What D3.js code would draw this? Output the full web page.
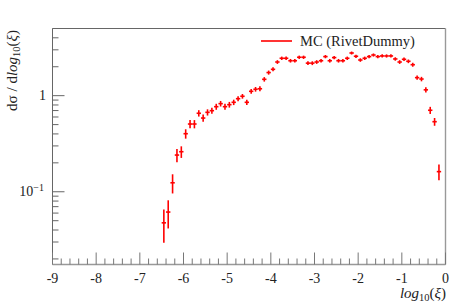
<!DOCTYPE html>
<html>
  <head>
    <meta charset="utf-8">
    <title>MC (RivetDummy)</title>
    <style>
      body { margin: 0; padding: 0; background: #fff; }
      #chart { width: 461px; height: 304px; }
    </style>
  </head>
  <body>
    <div id="chart"></div>

    <script src="https://cdnjs.cloudflare.com/ajax/libs/d3/7.8.5/d3.min.js"></script>
    <script>
      // bin centres in log10(xi)
      const xCenters = [
        -6.45, -6.35, -6.25, -6.15, -6.05, -5.95, -5.85, -5.75, -5.65, -5.55,
        -5.45, -5.35, -5.25, -5.15, -5.05, -4.95, -4.85, -4.75, -4.65, -4.55,
        -4.45, -4.35, -4.25, -4.15, -4.05, -3.95, -3.85, -3.75, -3.65, -3.55,
        -3.45, -3.35, -3.25, -3.15, -3.05, -2.95, -2.85, -2.75, -2.65, -2.55,
        -2.45, -2.35, -2.25, -2.15, -2.05, -1.95, -1.85, -1.75, -1.65, -1.55,
        -1.45, -1.35, -1.25, -1.15, -1.05, -0.95, -0.85, -0.75, -0.65, -0.55,
        -0.45, -0.35, -0.25, -0.15
      ];
      const binHalfWidth = 0.05;

      // dsigma / dlog10(xi)
      const yValues = [
        0.0475, 0.0615, 0.124, 0.241, 0.261, 0.402, 0.507, 0.507, 0.656, 0.585,
        0.671, 0.698, 0.768, 0.826, 0.768, 0.806, 0.853, 0.93, 0.986, 0.853,
        1.11, 1.166, 1.18, 1.48, 1.74, 1.88, 2.24, 2.45, 2.45, 2.31,
        2.31, 2.51, 2.51, 2.18, 2.18, 2.24, 2.31, 2.55, 2.31, 2.49,
        2.31, 2.31, 2.45, 2.78, 2.57, 2.35, 2.45, 2.55, 2.65, 2.55,
        2.59, 2.59, 2.59, 2.41, 2.24, 2.39, 2.28, 2.1, 1.54, 1.49,
        1.15, 0.705, 0.536, 0.162
      ];

      const yErrors = [
        0.018, 0.02, 0.028, 0.038, 0.036, 0.045, 0.05, 0.05, 0.05, 0.05,
        0.05, 0.05, 0.055, 0.055, 0.055, 0.055, 0.055, 0.055, 0.055, 0.055,
        0.065, 0.065, 0.07, 0.08, 0.085, 0.09, 0.1, 0.1, 0.1, 0.1,
        0.1, 0.1, 0.1, 0.1, 0.1, 0.1, 0.1, 0.1, 0.1, 0.1,
        0.1, 0.1, 0.1, 0.1, 0.1, 0.1, 0.1, 0.1, 0.1, 0.1,
        0.1, 0.1, 0.1, 0.1, 0.1, 0.1, 0.1, 0.1, 0.08, 0.08,
        0.07, 0.06, 0.05, 0.03
      ];

      const xTicks = [-9, -8, -7, -6, -5, -4, -3, -2, -1, 0];
      const yMajorTicks = [0.1, 1];
      const yMinorTicks = [0.02, 0.03, 0.04, 0.05, 0.06, 0.07, 0.08, 0.09,
                           0.2, 0.3, 0.4, 0.5, 0.6, 0.7, 0.8, 0.9, 2, 3, 4, 5];

      const data = xCenters.map((x, i) => ({x: x, y: yValues[i], e: yErrors[i]}));

      const W = 461, H = 304;
      const pLeft = 52.5, pRight = 445.5, pTop = 28.5, pBottom = 264.5;
      const FONT = 'Liberation Serif';

      const svg = d3.select('#chart').append('svg')
        .attr('width', W).attr('height', H);

      const x = d3.scaleLinear().domain([-9, 0]).range([pLeft, pRight]);
      const y = d3.scaleLog().domain([0.0175, 5]).range([pBottom, pTop]);

      // frame
      svg.append('line').attr('x1', pLeft).attr('x2', pRight).attr('y1', pTop).attr('y2', pTop)
        .attr('stroke', '#666');
      svg.append('line').attr('x1', pLeft).attr('x2', pLeft).attr('y1', pTop).attr('y2', pBottom)
        .attr('stroke', '#666');
      svg.append('line').attr('x1', pLeft).attr('x2', pRight).attr('y1', pBottom).attr('y2', pBottom)
        .attr('stroke', '#999').attr('stroke-width', 1.4);
      svg.append('line').attr('x1', pRight).attr('x2', pRight).attr('y1', pTop).attr('y2', pBottom)
        .attr('stroke', '#999').attr('stroke-width', 1.4);

      // x ticks (major every 1, minor every 0.2)
      const xMinor = d3.range(-9, 0.001, 0.2).filter(v => Math.abs(v - Math.round(v)) > 1e-6);
      svg.append('g').selectAll('line').data(xMinor).enter().append('line')
        .attr('x1', d => x(d)).attr('x2', d => x(d))
        .attr('y1', pBottom).attr('y2', pBottom - 6)
        .attr('stroke', '#777');
      svg.append('g').selectAll('line').data(xTicks).enter().append('line')
        .attr('x1', d => x(d)).attr('x2', d => x(d))
        .attr('y1', pBottom).attr('y2', pBottom - 12)
        .attr('stroke', '#777');
      svg.append('g').selectAll('text').data(xTicks).enter().append('text')
        .attr('x', d => x(d)).attr('y', 283)
        .attr('text-anchor', 'middle')
        .style('font-family', FONT).style('font-size', '14px').style('fill', '#222')
        .text(d => d === 0 ? '0' : '-' + Math.abs(d));

      // y ticks
      svg.append('g').selectAll('line').data(yMinorTicks).enter().append('line')
        .attr('x1', pLeft).attr('x2', pLeft + 6)
        .attr('y1', d => y(d)).attr('y2', d => y(d))
        .attr('stroke', '#666');
      svg.append('g').selectAll('line').data(yMajorTicks).enter().append('line')
        .attr('x1', pLeft).attr('x2', pLeft + 12)
        .attr('y1', d => y(d)).attr('y2', d => y(d))
        .attr('stroke', '#666');

      svg.append('text').attr('x', 46).attr('y', y(1) + 4)
        .attr('text-anchor', 'end')
        .style('font-family', FONT).style('font-size', '14px').style('fill', '#222')
        .text('1');
      const t01 = svg.append('text').attr('x', 44).attr('y', y(0.1) + 4)
        .attr('text-anchor', 'end')
        .style('font-family', FONT).style('font-size', '14px').style('fill', '#222');
      t01.append('tspan').text('10');
      t01.append('tspan').attr('dy', -5).style('font-size', '10px').text('\u22121');

      // data: error bars + bin-width bars
      const g = svg.append('g');
      g.selectAll('line.ey').data(data).enter().append('line')
        .attr('class', 'ey')
        .attr('x1', d => x(d.x)).attr('x2', d => x(d.x))
        .attr('y1', d => y(d.y - d.e)).attr('y2', d => y(d.y + d.e))
        .attr('stroke', '#ff0000').attr('stroke-width', 1.6);
      g.selectAll('line.ex').data(data).enter().append('line')
        .attr('class', 'ex')
        .attr('x1', d => x(d.x - binHalfWidth)).attr('x2', d => x(d.x + binHalfWidth))
        .attr('y1', d => y(d.y)).attr('y2', d => y(d.y))
        .attr('stroke', '#ff0000').attr('stroke-width', 1.6);

      // legend
      svg.append('line').attr('x1', 261).attr('x2', 292).attr('y1', 41).attr('y2', 41)
        .attr('stroke', '#ff0000').attr('stroke-width', 1.6);
      svg.append('text').attr('x', 300).attr('y', 45.5)
        .style('font-family', FONT).style('font-size', '14.5px').style('fill', '#222')
        .text('MC (RivetDummy)');

      // x axis label
      const xl = svg.append('text').attr('x', 446).attr('y', 298)
        .attr('text-anchor', 'end')
        .style('font-family', FONT).style('font-size', '15px').style('fill', '#222');
      xl.append('tspan').style('font-style', 'italic').text('log');
      xl.append('tspan').attr('dy', 3).style('font-size', '10.5px').text('10');
      xl.append('tspan').attr('dy', -3).text('(');
      xl.append('tspan').style('font-style', 'italic').text('\u03BE');
      xl.append('tspan').text(')');

      // y axis label
      const yl = svg.append('text')
        .attr('transform', 'translate(17,30) rotate(-90)')
        .attr('text-anchor', 'end')
        .style('font-family', FONT).style('font-size', '15px').style('fill', '#222');
      yl.append('tspan').text('d\u03C3 / d');
      yl.append('tspan').style('font-style', 'italic').text('log');
      yl.append('tspan').attr('dy', 3).style('font-size', '10.5px').text('10');
      yl.append('tspan').attr('dy', -3).text('(');
      yl.append('tspan').style('font-style', 'italic').text('\u03BE');
      yl.append('tspan').text(')');
    </script>
  </body>
</html>
